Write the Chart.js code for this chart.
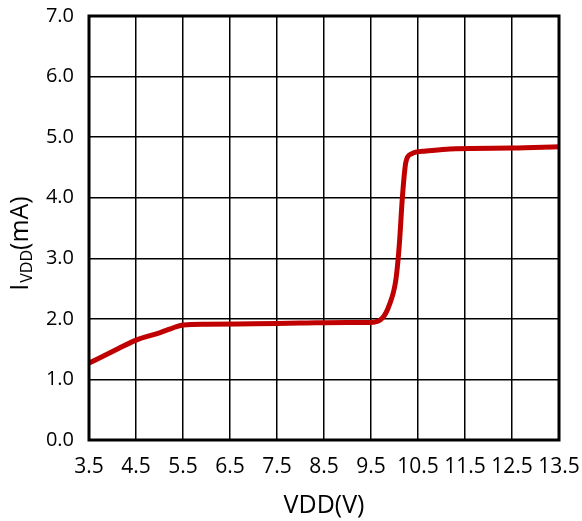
<!DOCTYPE html>
<html>
<head>
<meta charset="utf-8">
<script src="https://cdn.jsdelivr.net/npm/chart.js@4/dist/chart.umd.min.js"></script>
<style>
html,body{margin:0;padding:0;background:#fff;}
#wrap{width:582px;height:521px;position:relative;}
</style>
</head>
<body>
<div id="wrap"><canvas id="c" width="582" height="521"></canvas></div>
<script>
// Data
const vdd = [3.5, 4.0, 4.5, 5.0, 5.25, 5.5, 6.0, 7.0, 8.0, 9.0, 9.5, 9.75, 9.89, 10.03, 10.1, 10.17, 10.24, 10.35, 10.67, 11.3, 12.5, 13.5];
const ivdd = [1.27, 1.46, 1.65, 1.77, 1.84, 1.90, 1.91, 1.92, 1.93, 1.94, 1.94, 2.02, 2.23, 2.65, 3.2, 4.03, 4.58, 4.72, 4.77, 4.81, 4.82, 4.84];
const xTicks = [3.5, 4.5, 5.5, 6.5, 7.5, 8.5, 9.5, 10.5, 11.5, 12.5, 13.5];
const yTicks = [0, 1, 2, 3, 4, 5, 6, 7];
const xTitle = 'VDD(V)';
const yTitleMain = 'I';
const yTitleSub = 'VDD';
const yTitleTail = '(mA)';

const FONT = "'Open Sans', 'Noto Sans', sans-serif";

const frame = {
  id: 'frame',
  afterDraw(chart) {
    const {ctx, chartArea: a} = chart;
    ctx.save();
    ctx.strokeStyle = '#000';
    ctx.lineWidth = 3;
    ctx.strokeRect(a.left, a.top, a.right - a.left, a.bottom - a.top);
    // y-axis title with subscript
    ctx.translate(28, 244);
    ctx.rotate(-Math.PI / 2);
    ctx.fillStyle = '#000';
    ctx.textBaseline = 'alphabetic';
    const f1 = '25px ' + FONT, f2 = '16px ' + FONT;
    ctx.font = f1; const w1 = ctx.measureText(yTitleMain).width;
    ctx.font = f2; const w2 = ctx.measureText(yTitleSub).width;
    ctx.font = f1; const w3 = ctx.measureText(yTitleTail).width;
    let x = -(w1 + w2 + w3) / 2;
    ctx.font = f1; ctx.fillText(yTitleMain, x, 0); x += w1 + 1;
    ctx.font = f2; ctx.fillText(yTitleSub, x, 4); x += w2;
    ctx.font = f1; ctx.fillText(yTitleTail, x, 0);
    ctx.restore();
  }
};

new Chart(document.getElementById('c'), {
  type: 'line',
  data: {
    datasets: [{
      data: vdd.map((v, i) => ({x: v, y: ivdd[i]})),
      borderColor: '#c00000',
      borderWidth: 5,
      pointRadius: 0,
      cubicInterpolationMode: 'monotone',
      fill: false
    }]
  },
  options: {
    responsive: false,
    animation: false,
    devicePixelRatio: 1,
    layout: {padding: {top: 16, right: 23, left: 0, bottom: 0}},
    plugins: {legend: {display: false}, tooltip: {enabled: false}},
    scales: {
      x: {
        type: 'linear',
        min: 3.5, max: 13.5,
        afterBuildTicks: s => { s.ticks = xTicks.map(v => ({value: v})); },
        afterFit: s => { s.height = 81; s.paddingLeft = 0; s.paddingRight = 0; },
        grid: {color: '#000', lineWidth: 1.5, drawTicks: false},
        border: {display: false},
        ticks: {
          color: '#000', font: {family: FONT, size: 21}, padding: 14,
          maxRotation: 0, autoSkip: false,
          callback: v => v.toFixed(1)
        },
        title: {display: true, text: xTitle, color: '#000', font: {family: FONT, size: 25}, padding: {top: 0, bottom: 0}}
      },
      y: {
        type: 'linear',
        min: 0, max: 7,
        afterBuildTicks: s => { s.ticks = yTicks.map(v => ({value: v})); },
        afterFit: s => { s.width = 89; s.paddingTop = 0; s.paddingBottom = 0; },
        grid: {color: '#000', lineWidth: 1.5, drawTicks: false},
        border: {display: false},
        ticks: {
          color: '#000', font: {family: FONT, size: 20}, padding: 15,
          callback: v => v.toFixed(1)
        }
      }
    }
  },
  plugins: [frame]
});
</script>
</body>
</html>
